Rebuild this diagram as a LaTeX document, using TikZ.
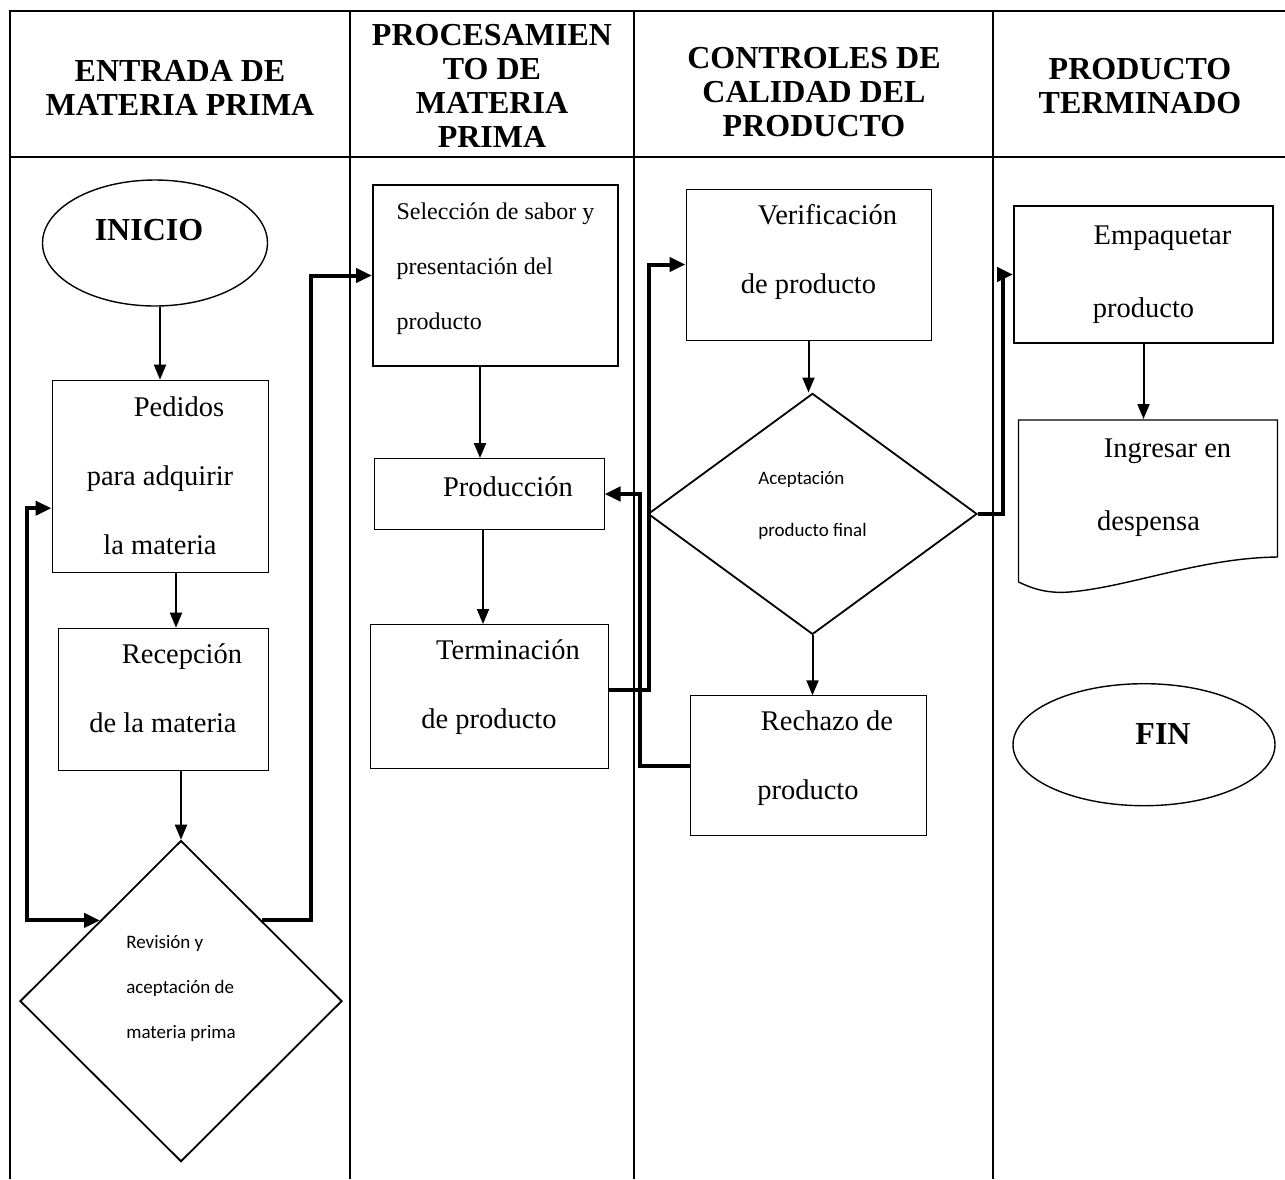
\documentclass[tikz,border=0pt]{standalone}
\usepackage{fontspec}
\setmainfont{Liberation Serif}
\newfontfamily\calibri{Carlito}
\usepackage{tikz}
\usetikzlibrary{positioning}
\usetikzlibrary{shapes.geometric,arrows.meta}
\newcommand{\bodyfont}{\fontsize{14.25pt}{34.5pt}\selectfont}
\newcommand{\widefont}{\fontsize{14.25pt}{36.5pt}\selectfont}
\newcommand{\headfont}{\fontsize{16pt}{17pt}\selectfont\bfseries}
\newcommand{\smallfont}{\fontsize{12pt}{27.5pt}\selectfont}
\newcommand{\diafont}{\calibri\fontsize{9.5pt}{22.5pt}\selectfont}
\newcommand{\findent}{\hspace*{19pt}}
% text raised inside its box, lines centred or flush left
\newcommand{\liftc}[2]{\raisebox{#1}[\height][\depth]{\begin{tabular}{@{}c@{}}#2\end{tabular}}}
\newcommand{\liftl}[2]{\raisebox{#1}[\height][\depth]{\begin{tabular}{@{}l@{}}#2\end{tabular}}}
\tikzstyle{block} = [rectangle, draw, line width=0.5pt, inner sep=0pt,
    font=\bodyfont, align=center]
\tikzstyle{decision} = [diamond, draw, line width=0.9pt, inner sep=0pt,
    font=\diafont, align=left]
\tikzstyle{terminal} = [ellipse, draw, line width=0.7pt, inner sep=0pt, font=\headfont]
\tikzstyle{header} = [font=\headfont, align=center]
\tikzstyle{line} = [draw, line width=1pt, -{Triangle[length=7.5pt,width=6pt]}]
\tikzstyle{retro} = [draw, line width=2pt, -{Triangle[length=8pt,width=7pt]}]

\begin{document}
\begin{tikzpicture}[x=0.5pt, y=-0.5pt]
        \useasboundingbox (0,0) rectangle (1285,1179);
        % table
        \draw[line width=1pt] (10,1179) -- (10,11) -- (1285,11);
        \draw[line width=1pt] (10,157) -- (1285,157);
        \foreach \x in {350,634,993} \draw[line width=1pt] (\x,11) -- (\x,1179);
        \node [header] (entrada) at (180,88) {ENTRADA DE\\MATERIA PRIMA};
        \node [header] (proceso) at (492,86) {PROCESAMIEN\\TO DE\\MATERIA\\PRIMA};
        \node [header] (control) at (814,92) {CONTROLES DE\\CALIDAD DEL\\PRODUCTO};
        \node [header] (terminado) at (1140,86) {PRODUCTO\\TERMINADO};
        % nodes
        \node [terminal, minimum width=112.5pt, minimum height=63pt] (inicio) at (155,243) {\raisebox{1.2pt}[0pt][0pt]{\hspace*{-6pt}INICIO}};
        \node [block, minimum width=108pt, minimum height=96pt, below=36.5pt of inicio, xshift=2.5pt] (pedidos) {\findent Pedidos\\para adquirir\\la materia};
        \node [block, minimum width=105pt, minimum height=71pt, below=27.5pt of pedidos, xshift=1.5pt] (recepcion) {\liftc{7.5pt}{\findent Recepción\\de la materia}};
        \node [decision, minimum width=161pt, minimum height=160.5pt, below=34.5pt of recepcion, xshift=9pt] (revision) {\liftl{8.5pt}{Revisión y\\aceptación de\\materia prima}};
        \node [block, line width=1pt, minimum width=122.5pt, minimum height=90.5pt, font=\smallfont] (seleccion) at (495.5,275.5) {\liftl{6pt}{Selección de sabor y\\presentación del\\producto}};
        \node [block, minimum width=115pt, minimum height=35.5pt, below=45.5pt of seleccion, xshift=-3.25pt] (produccion) {\liftc{5.5pt}{\findent Producción}};
        \node [block, minimum width=119pt, minimum height=72pt, below=47pt of produccion] (terminacion) {\liftc{8pt}{\findent Terminación\\de producto}};
        \node [block, minimum width=122.5pt, minimum height=75.5pt] (verificacion) at (808.5,264.5) {\liftc{9.5pt}{\findent Verificación\\de producto}};
        \node [decision, minimum width=164.5pt, minimum height=120.5pt, below=26pt of verificacion, xshift=2pt, font={\calibri\fontsize{9.5pt}{26pt}\selectfont}] (aceptacion) {\liftl{7pt}{Aceptación\\producto final}};
        \node [block, minimum width=118pt, minimum height=70pt, below=30pt of aceptacion, xshift=-2.25pt] (rechazo) {\liftc{7.5pt}{\findent Rechazo de\\producto}};
        \node [block, line width=1pt, minimum width=129.5pt, minimum height=68.5pt, font=\widefont] (empaquetar) at (1143.5,274.5) {\findent Empaquetar\\producto};
        \node [block, draw=none, minimum width=129.5pt, minimum height=68pt, below=37.5pt of empaquetar, xshift=2.5pt, font=\widefont] (ingresar) {\findent Ingresar en\\despensa};
        \node [terminal, minimum width=131pt, minimum height=61pt, below=63.5pt of ingresar, xshift=-2.25pt] (fin) {\raisebox{0.2pt}[0pt][0pt]{\findent FIN}};
        \begin{scope}[shift={(ingresar.south west)}]
            \draw[line width=0.7pt] (0,26) -- (0,-136) -- (259,-136) -- (259,1)
                .. controls (181,2) and (111,31) .. (51,36)
                .. controls (26,38) and (11,31) .. (0,26);
        \end{scope}
        % edges
        \coordinate (busizq) at (27,0);
        \coordinate (busrev) at (311,0);
        \coordinate (busrech) at (640,0);
        \coordinate (busterm) at (649,0);
        \coordinate (busacep) at (1003,0);
        \path [line] (inicio.south -| pedidos.north) -- (pedidos.north);
        \path [line] ([xshift=8pt]pedidos.south) -- ([xshift=8pt]pedidos.south |- recepcion.north);
        \path [line] (recepcion.south -| revision.north) -- (revision.north);
        \path [retro] (revision.north east) -- (revision.north east -| busrev) |- (seleccion.west);
        \path [retro, {Triangle[length=8pt,width=7pt]}-{Triangle[length=8pt,width=7pt]}] ([yshift=-16pt]pedidos.west) -- ([yshift=-16pt]pedidos.west -| busizq) |- (revision.north west);
        \path [line] ([xshift=-4.5pt]produccion.north |- seleccion.south) -- ([xshift=-4.5pt]produccion.north);
        \path [line] ([xshift=-3pt]produccion.south) -- ([xshift=-3pt]terminacion.north);
        \path [retro] ([yshift=3.5pt]terminacion.east) -- ([yshift=3.5pt]terminacion.east -| busterm) |- (verificacion.west);
        \path [line] (verificacion.south) -- (verificacion.south |- aceptacion.north);
        \path [line] (aceptacion.south) -- (aceptacion.south |- rechazo.north);
        \path [retro] (rechazo.west) -- (rechazo.west -| busrech) |- (produccion.east);
        \path [retro] (aceptacion.east) -- (aceptacion.east -| busacep) |- (empaquetar.west);
        \path [line] (empaquetar.south) -- (empaquetar.south |- ingresar.north);
    \end{tikzpicture}
\end{document}
